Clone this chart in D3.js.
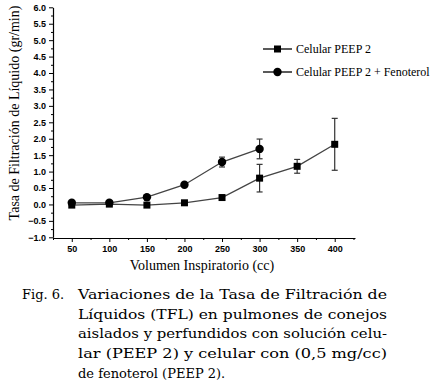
<!DOCTYPE html>
<html>
<head>
<meta charset="utf-8">
<script src="https://cdn.jsdelivr.net/npm/d3@7"></script>
<style>
  body { margin: 0; background: #fff; }
  svg { display: block; }
  .serif { font-family: "Liberation Serif", "Times New Roman", "DejaVu Serif", serif; }
  .cap { font-family: "DejaVu Serif", "Liberation Serif", serif; }
</style>
</head>
<body>
<div id="chart"></div>
<script>
// volumes (cc)
const volSquare = [50, 100, 150, 200, 250, 300, 350, 400];
const tflSquare = [-0.02, 0.01, -0.02, 0.05, 0.21, 0.8, 1.16, 1.83];
const errSquare = [0, 0, 0, 0, 0, 0.42, 0.21, 0.79];

const volCircle = [50, 100, 150, 200, 250, 300];
const tflCircle = [0.05, 0.05, 0.22, 0.6, 1.29, 1.69];
const errCircle = [0, 0, 0, 0, 0.15, 0.3];

const seriesNames = ["Celular PEEP 2", "Celular PEEP 2 + Fenoterol"];
const xTicks = [50, 100, 150, 200, 250, 300, 350, 400];
const yTicks = [-1, -0.5, 0, 0.5, 1, 1.5, 2, 2.5, 3, 3.5, 4, 4.5, 5, 5.5, 6];

const captionLines = [
    "Variaciones de la Tasa de Filtración de",
    "Líquidos (TFL) en pulmones de conejos",
    "aislados y perfundidos con solución celu-",
    "lar (PEEP 2) y celular con (0,5 mg/cc)",
    "de fenoterol (PEEP 2)."
];

const width = 432, height = 391;
const marginLeft = 53, axisRight = 355, plotTop = 7.3, plotBottom = 237.3;

const svg = d3.select("#chart").append("svg")
    .attr("width", width)
    .attr("height", height);

let xScale = d3.scaleLinear()
    .domain([25, 427])
    .range([marginLeft, axisRight]);

let yScale = d3.scaleLinear()
    .domain([-1, 6])
    .range([plotBottom, plotTop]);

// y axis: minor ticks then major with labels
svg.append("g")
    .attr("transform", `translate(${marginLeft},0)`)
    .call(d3.axisLeft(yScale).tickValues(d3.range(-0.75, 6, 0.5)).tickSize(2).tickFormat(""))
    .call(g => g.select(".domain").remove());

svg.append("g")
    .attr("class", "yaxis")
    .attr("transform", `translate(${marginLeft},0)`)
    .call(d3.axisLeft(yScale).tickValues(yTicks).tickSize(4).tickPadding(3)
        .tickFormat(d3.format(".1f")).tickSizeOuter(0));

// x axis
svg.append("g")
    .attr("transform", `translate(0,${plotBottom + 0.7})`)
    .call(d3.axisBottom(xScale).tickValues(d3.range(25, 426, 50)).tickSize(2).tickFormat(""))
    .call(g => g.select(".domain").remove());

svg.append("g")
    .attr("class", "xaxis")
    .attr("transform", `translate(0,${plotBottom + 0.7})`)
    .call(d3.axisBottom(xScale).tickValues(xTicks).tickSize(4).tickPadding(4).tickSizeOuter(0));

svg.selectAll(".xaxis text, .yaxis text")
    .style("font-family", "'Liberation Sans', Arial, sans-serif")
    .style("font-size", "9px")
    .style("font-weight", "bold")
    .attr("fill", "#000");
svg.selectAll(".domain").attr("stroke", "#000").attr("stroke-width", 1.2);
svg.selectAll(".tick line").attr("stroke", "#000");

// axis titles
svg.append("text")
    .attr("class", "serif")
    .attr("x", -113)
    .attr("y", 19)
    .attr("transform", "rotate(-90)")
    .text("Tasa de Filtración de Líquido (gr/min)")
    .style("font-size", "14px")
    .style("text-anchor", "middle");

svg.append("text")
    .attr("class", "serif")
    .attr("x", 202)
    .attr("y", 270)
    .text("Volumen Inspiratorio (cc)")
    .style("font-size", "14px")
    .style("text-anchor", "middle");

const line = d3.line()
    .x(d => xScale(d[0]))
    .y(d => yScale(d[1]));

function drawSeries(vols, vals, errs, shape) {
    const pts = vols.map((v, i) => [v, vals[i], errs[i]]);
    const g = svg.append("g");
    g.append("path")
        .datum(pts)
        .attr("d", line)
        .attr("fill", "none")
        .attr("stroke", "#444")
        .attr("stroke-width", 1.3);

    const withErr = pts.filter(d => d[2] > 0);
    withErr.forEach(d => {
        const x = xScale(d[0]);
        const y1 = yScale(d[1] - d[2]), y2 = yScale(d[1] + d[2]);
        g.append("line").attr("x1", x).attr("x2", x).attr("y1", y1).attr("y2", y2)
            .attr("stroke", "#333").attr("stroke-width", 1.2);
        [y1, y2].forEach(yy => {
            g.append("line").attr("x1", x - 3).attr("x2", x + 3).attr("y1", yy).attr("y2", yy)
                .attr("stroke", "#333").attr("stroke-width", 1.2);
        });
    });

    if (shape === "square") {
        g.selectAll("rect")
            .data(pts)
            .enter().append("rect")
            .attr("x", d => xScale(d[0]) - 3.5)
            .attr("y", d => yScale(d[1]) - 3.5)
            .attr("width", 7)
            .attr("height", 7)
            .attr("fill", "#000");
    } else {
        g.selectAll("circle")
            .data(pts)
            .enter().append("circle")
            .attr("cx", d => xScale(d[0]))
            .attr("cy", d => yScale(d[1]))
            .attr("r", 4.2)
            .attr("fill", "#000");
    }
}

drawSeries(volSquare, tflSquare, errSquare, "square");
drawSeries(volCircle, tflCircle, errCircle, "circle");

// legend
const legend = svg.append("g").attr("transform", "translate(263,0)");
[49, 72].forEach((ly, i) => {
    legend.append("line").attr("x1", 0).attr("x2", 29).attr("y1", ly).attr("y2", ly)
        .attr("stroke", "#000").attr("stroke-width", 1.3);
    if (i === 0) {
        legend.append("rect").attr("x", 11).attr("y", ly - 3.5).attr("width", 7).attr("height", 7).attr("fill", "#000");
    } else {
        legend.append("circle").attr("cx", 14.5).attr("cy", ly).attr("r", 4.2).attr("fill", "#000");
    }
    legend.append("text")
        .attr("class", "serif")
        .attr("x", 33)
        .attr("y", ly + 4)
        .text(seriesNames[i])
        .style("font-size", "12px");
});

// caption
const caption = svg.append("g")
    .attr("class", "cap")
    .style("font-size", "13px");
caption.append("text").attr("x", 22).attr("y", 299).text("Fig. 6.");
captionLines.forEach((t, i) => {
    const txt = caption.append("text")
        .attr("x", 78)
        .attr("y", 299 + i * 19.7)
        .text(t);
    if (i < captionLines.length - 1) {
        txt.attr("textLength", 309).attr("lengthAdjust", "spacingAndGlyphs");
    }
});
</script>
</body>
</html>
